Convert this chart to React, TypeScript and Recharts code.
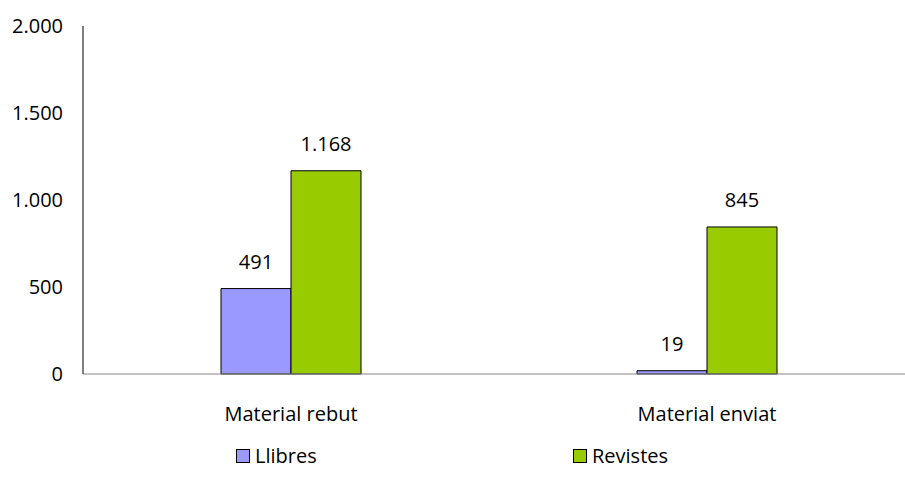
import { BarChart, Bar, XAxis, YAxis, Legend, LabelList } from "recharts";

const categories = ["Material rebut", "Material enviat"];
const llibres = [491, 19];
const revistes = [1168, 845];
const yTicks = [0, 500, 1000, 1500, 2000];

const series = [
  { key: "llibres", name: "Llibres", color: "#9999FF" },
  { key: "revistes", name: "Revistes", color: "#99CC00" },
];

const data = categories.map((c, i) => ({
  name: c,
  llibres: llibres[i],
  revistes: revistes[i],
}));

const FONT = "'Open Sans', sans-serif";
const FS = 20;

// 1168 -> "1.168"
const fmt = (v: number | string) =>
  String(v).replace(/\B(?=(\d{3})+(?!\d))/g, ".");

function LegendContent() {
  return (
    <div
      style={{
        display: "flex",
        paddingLeft: 236,
        fontFamily: FONT,
        fontSize: FS,
        lineHeight: "26px",
        color: "#000",
      }}
    >
      {series.map((s) => (
        <div
          key={s.key}
          style={{
            width: 337,
            flexShrink: 0,
            display: "flex",
            alignItems: "center",
          }}
        >
          <span
            style={{
              display: "inline-block",
              width: 12,
              height: 12,
              background: s.color,
              border: "1px solid #000",
              marginRight: 5,
            }}
          />
          <span>{s.name}</span>
        </div>
      ))}
    </div>
  );
}

export default function App() {
  return (
    <div
      style={{
        position: "fixed",
        left: 0,
        top: 0,
        width: 905,
        height: 492,
        overflow: "hidden",
        background: "#fff",
      }}
    >
      <BarChart
        width={915}
        height={492}
        data={data}
        margin={{ top: 26, right: 0, left: 0, bottom: 58 }}
        barCategoryGap={138}
        barGap={0}
      >
        <XAxis
          dataKey="name"
          height={60}
          tickLine={false}
          tickSize={0}
          tickMargin={33}
          stroke="#868686"
          tick={{ fill: "#000", fontSize: FS, fontFamily: FONT }}
        />
        <YAxis
          width={83}
          domain={[0, 2000]}
          ticks={yTicks}
          tickLine={false}
          tickSize={0}
          tickMargin={20}
          stroke="#000"
          tickFormatter={fmt}
          tick={{ fill: "#000", fontSize: FS, fontFamily: FONT }}
        />
        <Legend
          layout="horizontal"
          verticalAlign="middle"
          align="center"
          content={<LegendContent />}
          wrapperStyle={{ top: 443, left: 0, width: 905, height: 26 }}
        />
        {series.map((s) => (
          <Bar
            key={s.key}
            dataKey={s.key}
            name={s.name}
            fill={s.color}
            stroke="#000"
            strokeWidth={1}
            isAnimationActive={false}
          >
            <LabelList
              dataKey={s.key}
              position="top"
              offset={20}
              formatter={fmt}
              style={{ fill: "#000", fontSize: FS, fontFamily: FONT }}
            />
          </Bar>
        ))}
      </BarChart>
    </div>
  );
}
